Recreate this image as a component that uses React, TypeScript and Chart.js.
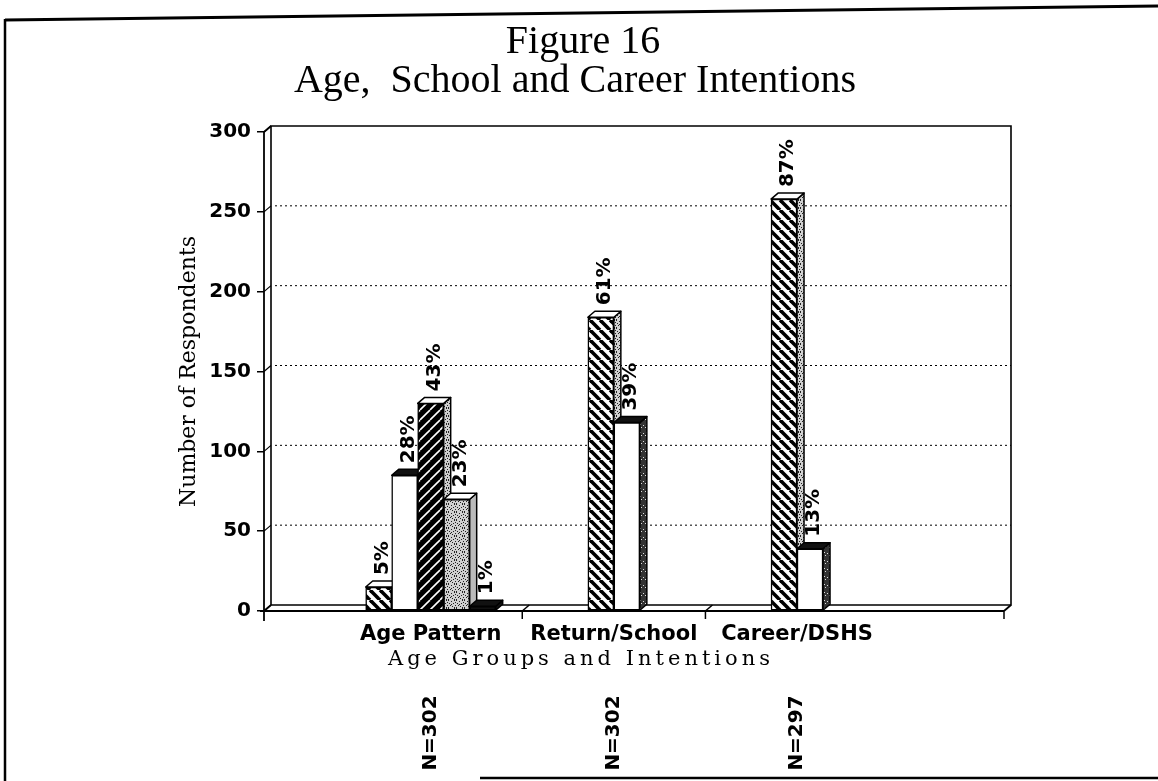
import React, { useEffect, useRef } from 'react';
import { Chart, registerables } from 'chart.js';

Chart.register(...registerables);

// ---------- data ----------
const categories = ['Age Pattern', 'Return/School', 'Career/DSHS'];
const sampleSizes = ['N=302', 'N=302', 'N=297'];
const seriesNames = ['Series 1', 'Series 2', 'Series 3', 'Series 4', 'Series 5'];
const series1 = [15, 184, 258];
const series2 = [85, 118, 39];
const series3 = [130, null, null];
const series4 = [70, null, null];
const series5 = [3, null, null];
const pct1 = ['5%', '61%', '87%'];
const pct2 = ['28%', '39%', '13%'];
const pct3 = ['43%', '', ''];
const pct4 = ['23%', '', ''];
const pct5 = ['1%', '', ''];
const yTicks = [0, 50, 100, 150, 200, 250, 300];
const titleLines = ['Figure 16', 'Age,  School and Career Intentions'];
const yTitle = 'Number of Respondents';
const xTitle = 'Age Groups and Intentions';

const seriesValues: (number | null)[][] = [series1, series2, series3, series4, series5];
const seriesPct: string[][] = [pct1, pct2, pct3, pct4, pct5];

const DX = 7;
const DY = 6;
const W = 1158;
const H = 781;

export default function App() {
  const ref = useRef<HTMLCanvasElement>(null);

  useEffect(() => {
    const canvas = ref.current!;
    const mainCtx = canvas.getContext('2d')!;
    const mk = (s: number, draw: (g: CanvasRenderingContext2D) => void) => {
      const c = document.createElement('canvas');
      c.width = s;
      c.height = s;
      const g = c.getContext('2d')!;
      draw(g);
      return mainCtx.createPattern(c, 'repeat')!;
    };
    const hatch = mk(10, (g) => {
      g.fillStyle = '#fff';
      g.fillRect(0, 0, 10, 10);
      g.strokeStyle = '#000';
      g.lineWidth = 3.6;
      for (const o of [-10, 0, 10]) {
        g.beginPath();
        g.moveTo(o, 0);
        g.lineTo(o + 10, 10);
        g.stroke();
      }
    });
    const darkHatch = mk(10, (g) => {
      g.fillStyle = '#000';
      g.fillRect(0, 0, 10, 10);
      g.strokeStyle = '#fff';
      g.lineWidth = 1.6;
      for (const o of [-10, 0, 10]) {
        g.beginPath();
        g.moveTo(o, 10);
        g.lineTo(o + 10, 0);
        g.stroke();
      }
    });
    const dotCells = [[0, 0], [3, 1], [6, 0], [1, 3], [5, 3], [2, 5], [7, 5], [4, 6], [0, 7], [6, 7], [3, 4], [7, 2]];
    const stipple = mk(8, (g) => {
      g.fillStyle = '#d0d0d0';
      g.fillRect(0, 0, 8, 8);
      g.fillStyle = '#222';
      dotCells.forEach(([a, b]) => g.fillRect(a, b, 1, 1));
    });
    const stippleDark = mk(8, (g) => {
      g.fillStyle = '#333';
      g.fillRect(0, 0, 8, 8);
      g.fillStyle = '#ddd';
      dotCells.slice(0, 5).forEach(([a, b]) => g.fillRect(a, b, 1, 1));
    });

    const styles = [
      { fill: hatch, top: '#fff', side: stipple },
      { fill: '#fff', top: '#111', side: stippleDark },
      { fill: darkHatch, top: '#fff', side: stipple },
      { fill: stipple, top: '#fff', side: '#bbb' },
      { fill: '#111', top: '#111', side: '#111' },
    ];

    const line = (ctx: CanvasRenderingContext2D, x1: number, y1: number, x2: number, y2: number) => {
      ctx.beginPath();
      ctx.moveTo(x1, y1);
      ctx.lineTo(x2, y2);
      ctx.stroke();
    };

    const collectBars = (chart: any) => {
      const bars: any[] = [];
      chart.data.datasets.forEach((_ds: any, di: number) => {
        const meta = chart.getDatasetMeta(di);
        meta.data.forEach((el: any, j: number) => {
          if (seriesValues[di][j] === null) return;
          const p = el.getProps(['x', 'y', 'base', 'width'], true);
          if (!isFinite(p.x) || !isFinite(p.y)) return;
          bars.push({ ...p, di, j });
        });
      });
      return bars;
    };

    const plugin = {
      id: 'fig16',
      beforeDatasetsDraw(chart: any) {
        const { ctx, chartArea: a } = chart;
        const x = chart.scales.x;
        const y = chart.scales.y;
        ctx.save();
        ctx.strokeStyle = '#000';
        // dotted grid lines on the back wall
        ctx.lineWidth = 1;
        ctx.setLineDash([2, 3]);
        yTicks.forEach((v) => {
          if (v <= 0 || v >= 300) return;
          const py = y.getPixelForValue(v) - DY;
          line(ctx, a.left + DX + 4, py, a.right + DX, py);
        });
        ctx.setLineDash([]);
        // back wall frame
        ctx.lineWidth = 1.6;
        ctx.beginPath();
        ctx.moveTo(a.left + DX, a.bottom - DY);
        ctx.lineTo(a.left + DX, a.top - DY);
        ctx.lineTo(a.right + DX, a.top - DY);
        ctx.lineTo(a.right + DX, a.bottom - DY);
        ctx.lineTo(a.left + DX, a.bottom - DY);
        ctx.stroke();
        // front axis and floor
        ctx.lineWidth = 1.8;
        line(ctx, a.left, a.top, a.left, a.bottom + 10);
        line(ctx, a.left, a.top, a.left + DX, a.top - DY);
        line(ctx, a.left - 4, a.bottom, a.right, a.bottom);
        line(ctx, a.right, a.bottom, a.right + DX, a.bottom - DY);
        line(ctx, a.left, a.bottom, a.left + DX, a.bottom - DY);
        ctx.lineWidth = 1.2;
        yTicks.forEach((v) => {
          const py = y.getPixelForValue(v);
          line(ctx, a.left, py, a.left + DX, py - DY);
        });
        // category boundary ticks
        ctx.lineWidth = 1.5;
        [0.5, 1.5].forEach((b) => {
          const px = x.getPixelForValue(b);
          line(ctx, px, a.bottom, px, a.bottom + 8);
          line(ctx, px, a.bottom, px + DX, a.bottom - DY);
        });
        line(ctx, a.right, a.bottom, a.right, a.bottom + 8);
        // 3D top and side faces
        const bars = collectBars(chart).sort((m, n) => m.x - n.x);
        ctx.lineWidth = 1.5;
        ctx.lineJoin = 'round';
        bars.forEach((b) => {
          const l = b.x - b.width / 2;
          const r = b.x + b.width / 2;
          const st = styles[b.di];
          ctx.beginPath();
          ctx.moveTo(r, b.y);
          ctx.lineTo(r + DX, b.y - DY);
          ctx.lineTo(r + DX, b.base - DY);
          ctx.lineTo(r, b.base);
          ctx.closePath();
          ctx.fillStyle = st.side;
          ctx.fill();
          ctx.stroke();
          ctx.beginPath();
          ctx.moveTo(l, b.y);
          ctx.lineTo(l + DX, b.y - DY);
          ctx.lineTo(r + DX, b.y - DY);
          ctx.lineTo(r, b.y);
          ctx.closePath();
          ctx.fillStyle = st.top;
          ctx.fill();
          ctx.stroke();
        });
        ctx.restore();
      },
      afterDatasetsDraw(chart: any) {
        const { ctx } = chart;
        ctx.save();
        ctx.fillStyle = '#000';
        ctx.font = 'bold 20px "DejaVu Sans"';
        ctx.textAlign = 'left';
        ctx.textBaseline = 'middle';
        collectBars(chart).forEach((b) => {
          const txt = seriesPct[b.di][b.j];
          if (!txt) return;
          ctx.save();
          ctx.translate(b.x + 4, b.y - DY - 6);
          ctx.rotate(-Math.PI / 2);
          ctx.fillText(txt, 0, 0);
          ctx.restore();
        });
        ctx.restore();
      },
      afterDraw(chart: any) {
        const { ctx, chartArea: a } = chart;
        const x = chart.scales.x;
        const y = chart.scales.y;
        ctx.save();
        ctx.fillStyle = '#000';
        ctx.strokeStyle = '#000';
        // main title
        ctx.textAlign = 'center';
        ctx.textBaseline = 'alphabetic';
        ctx.font = '40px "Liberation Serif"';
        ctx.fillText(titleLines[0], W / 2 + 4, 53);
        ctx.fillText(titleLines[1], W / 2 - 4, 92);
        // y axis title
        ctx.save();
        ctx.translate(a.left - 75, (y.getPixelForValue(0) + y.getPixelForValue(300)) / 2);
        ctx.rotate(-Math.PI / 2);
        ctx.font = '22px "DejaVu Serif"';
        ctx.textBaseline = 'middle';
        ctx.fillText(yTitle, 0, 0);
        ctx.restore();
        // x axis title
        ctx.save();
        ctx.font = '21px "DejaVu Serif"';
        (ctx as any).letterSpacing = '4px';
        ctx.textBaseline = 'middle';
        ctx.fillText(xTitle, W / 2 + 2, 660);
        ctx.restore();
        // N labels
        ctx.font = 'bold 20px "DejaVu Sans"';
        ctx.textBaseline = 'middle';
        sampleSizes.forEach((t, i) => {
          ctx.save();
          ctx.translate(x.getPixelForValue(i), 733);
          ctx.rotate(-Math.PI / 2);
          ctx.fillText(t, 0, 0);
          ctx.restore();
        });
        // outer frame
        ctx.lineWidth = 3;
        line(ctx, 5, 20, W, 6);
        ctx.lineWidth = 2.5;
        line(ctx, 5, 19, 5, H);
        ctx.lineWidth = 2.5;
        line(ctx, 480, H - 3, W, H - 3);
        ctx.restore();
      },
    };

    const chart = new Chart(canvas, {
      type: 'bar',
      data: {
        datasets: seriesValues.map((vals, di) => ({
          label: seriesNames[di],
          data: vals.map((v, i) => ({ x: i, y: v })) as any,
          backgroundColor: styles[di].fill as any,
          borderColor: '#000',
          borderWidth: 1.5,
          borderSkipped: false,
        })),
      },
      options: {
        responsive: false,
        animation: false,
        devicePixelRatio: 1,
        layout: { padding: { top: 132, right: 154, left: 0, bottom: 0 } },
        datasets: { bar: { skipNull: true, barThickness: 26, grouped: true } } as any,
        plugins: {
          legend: { display: false },
          tooltip: { enabled: false },
          title: { display: false },
        },
        scales: {
          x: {
            type: 'linear',
            min: -0.91,
            max: 3.13,
            offset: false,
            grid: { display: false, drawTicks: false },
            border: { display: false },
            afterBuildTicks: (s: any) => {
              s.ticks = categories.map((_c, i) => ({ value: i }));
            },
            afterFit: (s: any) => {
              s.height = 170;
            },
            ticks: {
              padding: 11,
              color: '#000',
              autoSkip: false,
              maxRotation: 0,
              minRotation: 0,
              font: { family: '"DejaVu Sans"', size: 21, weight: 'bold' },
              callback: (v: any) => categories[v] ?? '',
            },
          },
          y: {
            type: 'linear',
            min: 0,
            max: 300,
            grid: {
              display: true,
              drawOnChartArea: false,
              drawTicks: true,
              tickLength: 7,
              color: '#000',
              lineWidth: 1.5,
            },
            border: { display: false },
            afterFit: (s: any) => {
              s.width = 264;
            },
            ticks: {
              stepSize: 50,
              padding: 6,
              color: '#000',
              font: { family: '"DejaVu Sans"', size: 20, weight: 'bold' },
            },
          },
        },
      },
      plugins: [plugin],
    });

    return () => {
      chart.destroy();
    };
  }, []);

  return (
    <div style={{ position: 'fixed', left: 0, top: 0, width: W, height: H, background: '#fff' }}>
      <canvas ref={ref} width={W} height={H} style={{ display: 'block' }} />
    </div>
  );
}
